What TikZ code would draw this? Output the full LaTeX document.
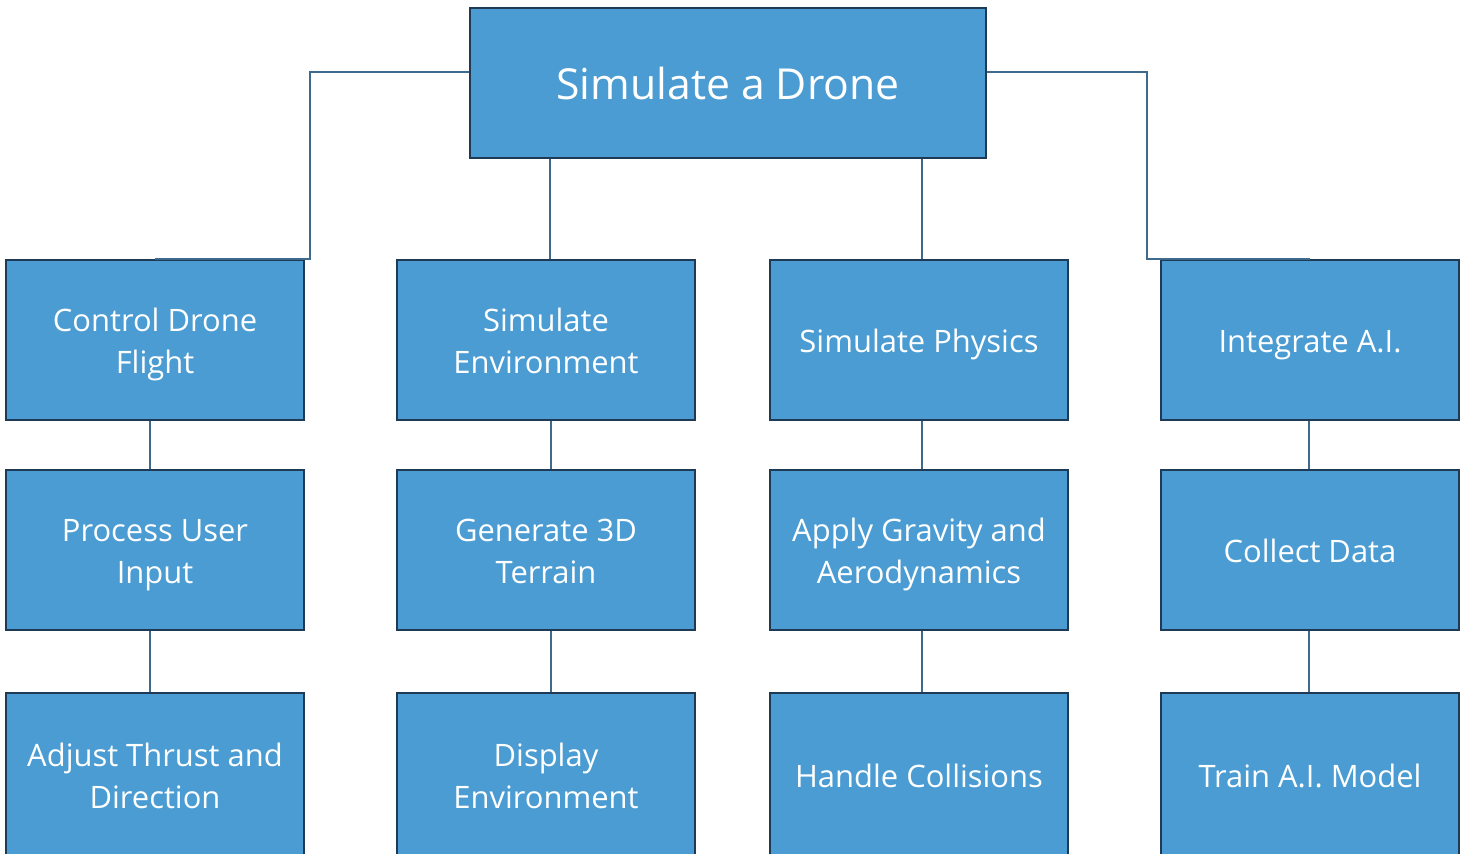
\documentclass[tikz,border=0pt]{standalone}
\usepackage{fontspec}
\setmainfont{Open Sans}
\definecolor{boxfill}{HTML}{4A9CD2}
\definecolor{boxline}{HTML}{1E3A55}
\definecolor{wire}{HTML}{3E6A8E}
% centred text block, nudged down while keeping its reported size
\newcommand{\boxtext}[1]{\raisebox{-0.08cm}[\height][\depth]{\begin{tabular}{@{}c@{}}#1\end{tabular}}}
\begin{document}
\begin{tikzpicture}[x=0.02cm,y=-0.02cm,
  task/.style={draw=boxline,line width=1.2pt,fill=boxfill,text=white,
    minimum width=5.96cm,minimum height=3.2cm,inner sep=0pt,align=center,
    font=\fontsize{17.6}{23.9}\selectfont},
  lowtask/.style={task,minimum height=3.3cm},
  rootbox/.style={task,minimum width=10.32cm,minimum height=3.0cm,
    font=\fontsize{24.3}{28}\selectfont},
  link/.style={draw=wire,line width=1.3pt}]
\useasboundingbox (0,0) rectangle (1466,854);
\clip (0,0) rectangle (1466,854);

% root
\node[rootbox] (root) at (728,83) {Simulate a Drone};

% first level
\node[task] (c1) at (155,340) {\boxtext{Control Drone\\Flight}};
\node[task] (c2) at (546,340) {\boxtext{Simulate\\Environment}};
\node[task] (c3) at (919,340) {\boxtext{Simulate Physics}};
\node[task] (c4) at (1310,340) {\boxtext{Integrate A.I.}};

% second level
\node[task] (d1) at (155,550) {\boxtext{Process User\\Input}};
\node[task] (d2) at (546,550) {\boxtext{Generate 3D\\Terrain}};
\node[task] (d3) at (919,550) {\boxtext{Apply Gravity and\\Aerodynamics}};
\node[task] (d4) at (1310,550) {\boxtext{Collect Data}};

% third level (runs past the lower edge)
\node[lowtask] (e1) at (155,775.5) {\boxtext{Adjust Thrust and\\Direction}};
\node[lowtask] (e2) at (546,775.5) {\boxtext{Display\\Environment}};
\node[lowtask] (e3) at (919,775.5) {\boxtext{Handle Collisions}};
\node[lowtask] (e4) at (1310,775.5) {\boxtext{Train A.I. Model}};

% elbow links from the root
\coordinate (lk) at (310,72);
\coordinate (rk) at (1147,72);
\draw[link] (root.west |- lk) -- (lk) -- (lk |- c1.north) -- (c1.north);
\draw[link] (root.east |- rk) -- (rk) -- (rk |- c4.north) -- (c4.north);
\draw[link] (root.south -| 550,0) -- (c2.north -| 550,0);
\draw[link] (root.south -| 922,0) -- (c3.north -| 922,0);

% vertical links down each column
\draw[link] (c1.south -| 150,0) -- (d1.north -| 150,0);
\draw[link] (d1.south -| 150,0) -- (e1.north -| 150,0);
\draw[link] (c2.south -| 551,0) -- (d2.north -| 551,0);
\draw[link] (d2.south -| 551,0) -- (e2.north -| 551,0);
\draw[link] (c3.south -| 922,0) -- (d3.north -| 922,0);
\draw[link] (d3.south -| 922,0) -- (e3.north -| 922,0);
\draw[link] (c4.south -| 1309,0) -- (d4.north -| 1309,0);
\draw[link] (d4.south -| 1309,0) -- (e4.north -| 1309,0);
\end{tikzpicture}
\end{document}
